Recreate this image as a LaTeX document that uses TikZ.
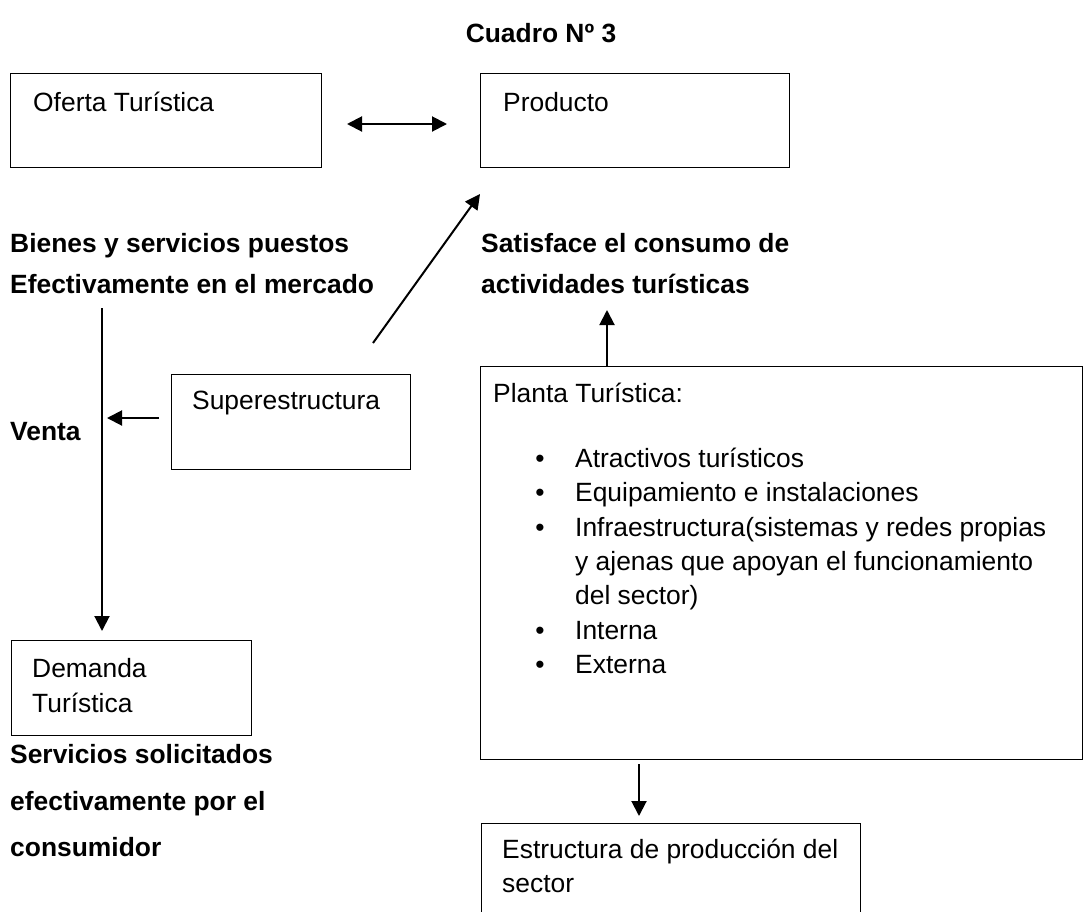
\documentclass[tikz,border=0pt]{standalone}
\usepackage{fontspec}
\setmainfont{Liberation Sans}
\usetikzlibrary{arrows.meta}
\begin{document}
\begin{tikzpicture}[x=1pt,y=-1pt,
  box/.style={draw, line width=1.4pt, inner sep=0pt, anchor=north west},
  txt/.style={anchor=base west, inner sep=0pt, font=\fontsize{26.4pt}{34.5pt}\selectfont},
  btxt/.style={anchor=base west, inner sep=0pt, font=\fontsize{26.4pt}{34.5pt}\selectfont\bfseries},
  bul/.style={anchor=base, inner sep=0pt, font=\fontsize{26.4pt}{34.5pt}\selectfont},
  arr/.style={line width=2pt, -{Triangle[length=15pt,width=15pt]}},
  darr/.style={line width=2pt, {Triangle[length=15pt,width=15pt]}-{Triangle[length=15pt,width=15pt]}},
]
\useasboundingbox (0,0) rectangle (1084,911);

% title
\node[btxt, anchor=base] (title) at (541,42) {Cuadro Nº 3};

% boxes
\node[box, minimum width=311pt, minimum height=94pt] (oferta) at (10,73) {};
\node[box, minimum width=309pt, minimum height=94pt] (producto) at (480,73) {};
\node[box, minimum width=239pt, minimum height=95pt] (super) at (171,374) {};
\node[box, minimum width=240pt, minimum height=95pt] (demanda) at (11,640) {};
\node[box, minimum width=602pt, minimum height=393pt] (planta) at (480,366) {};
\node[box, minimum width=379pt, minimum height=110pt] (estructura) at (481,823) {};

% box texts
\node[txt] (tOferta) at (33,111) {Oferta Turística};
\node[txt] (tProducto) at (503,111) {Producto};
\node[txt] (tSuper) at (192,409) {Superestructura};
\node[txt] (tDem1) at (32,677) {Demanda};
\node[txt] (tDem2) at (32,712) {Turística};
\node[txt] (tPlanta) at (493,402) {Planta Turística:};
\node[bul] (b1) at (540,467) {•};
\node[txt] (i1) at (575,467) {Atractivos turísticos};
\node[bul] (b2) at (540,501) {•};
\node[txt] (i2) at (575,501) {Equipamiento e instalaciones};
\node[bul] (b3) at (540,536) {•};
\node[txt] (i3a) at (575,536) {Infraestructura(sistemas y redes propias};
\node[txt] (i3b) at (575,570) {y ajenas que apoyan el funcionamiento};
\node[txt] (i3c) at (575,604) {del sector)};
\node[bul] (b4) at (540,639) {•};
\node[txt] (i4) at (575,639) {Interna};
\node[bul] (b5) at (540,673) {•};
\node[txt] (i5) at (575,673) {Externa};
\node[txt] (tEst1) at (502,858) {Estructura de producción del};
\node[txt] (tEst2) at (502,892) {sector};

% bold labels
\node[btxt] (l1) at (10,252) {Bienes y servicios puestos};
\node[btxt] (l2) at (10,293) {Efectivamente en el mercado};
\node[btxt] (l3) at (481,252) {Satisface el consumo de};
\node[btxt] (l4) at (481,293) {actividades turísticas};
\node[btxt] (venta) at (10,440) {Venta};
\node[btxt] (l5) at (10,763) {Servicios solicitados};
\node[btxt] (l6) at (10,810) {efectivamente por el};
\node[btxt] (l7) at (10,856) {consumidor};

% connector ends
\coordinate (d1) at (347,124);
\coordinate (d2) at (447,124);
\coordinate (g1) at (373,343);
\coordinate (g2) at (480,194);
\coordinate (v1) at (102,308);
\coordinate (v2) at (102,631);
\coordinate (s1) at (159,418);
\coordinate (s2) at (107,418);
\coordinate (u1) at (607,366);
\coordinate (u2) at (607,310);
\coordinate (w1) at (639,764);
\coordinate (w2) at (639,816);

\draw[darr] (d1) -- (d2);
\draw[arr] (g1) -- (g2);
\draw[arr] (v1) -- (v2);
\draw[arr] (s1) -- (s2);
\draw[arr] (u1) -- (u2);
\draw[arr] (w1) -- (w2);
\end{tikzpicture}
\end{document}
